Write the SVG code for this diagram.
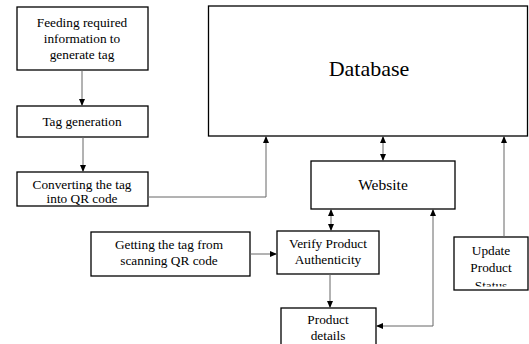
<svg xmlns="http://www.w3.org/2000/svg" width="529" height="344" viewBox="0 0 529 344">
<style>
.box{fill:#fff;stroke:#000;stroke-width:1.3}
.t{font-family:"Liberation Serif","Times New Roman",serif;font-size:13.3px;fill:#000;text-anchor:middle}
.c{fill:none;stroke:#666;stroke-width:1}
</style>
<defs>
<marker id="ah" markerWidth="7" markerHeight="6" refX="7" refY="3" orient="auto-start-reverse" markerUnits="userSpaceOnUse">
<path d="M0,0 L7,3 L0,6 Z" fill="#000"/>
</marker>
<clipPath id="clipU"><rect x="454" y="237" width="74" height="49.5"/></clipPath>
</defs>
<rect width="529" height="344" fill="#fff"/>
<g id="feeding">
<rect class="box" x="17" y="7" width="131" height="63"/>
<text class="t" x="82" y="27">Feeding required</text>
<text class="t" x="82" y="43">information to</text>
<text class="t" x="82" y="59">generate tag</text>
</g>
<g id="taggen">
<rect class="box" x="17" y="106" width="131" height="31"/>
<text class="t" x="82" y="126">Tag generation</text>
</g>
<g id="converting">
<rect class="box" x="17" y="172" width="131" height="34"/>
<text class="t" x="82" y="189">Converting the tag</text>
<text class="t" x="82" y="203">into QR code</text>
</g>
<g id="database">
<rect class="box" x="208.5" y="6" width="319" height="130"/>
<text class="t" x="369" y="76" style="font-size:22px">Database</text>
</g>
<g id="website">
<rect class="box" x="311" y="161" width="144" height="48"/>
<text class="t" x="383" y="190" style="font-size:15.5px">Website</text>
</g>
<g id="getting">
<rect class="box" x="91" y="232" width="159" height="44"/>
<text class="t" x="169" y="249">Getting the tag from</text>
<text class="t" x="169" y="265">scanning QR code</text>
</g>
<g id="verify">
<rect class="box" x="277" y="231" width="102" height="43"/>
<text class="t" x="328" y="248">Verify Product</text>
<text class="t" x="328" y="264">Authenticity</text>
</g>
<g id="productdetails">
<rect class="box" x="281" y="308" width="95" height="40"/>
<text class="t" x="328" y="324">Product</text>
<text class="t" x="328" y="340">details</text>
</g>
<g id="update">
<rect class="box" x="454" y="237" width="74" height="53"/>
<g clip-path="url(#clipU)">
<text class="t" x="491" y="255">Update</text>
<text class="t" x="491" y="272">Product</text>
<text class="t" x="491" y="289.5">Status</text>
</g>
</g>
<g id="connectors">
<line class="c" x1="82" y1="70" x2="82" y2="106" marker-end="url(#ah)"/>
<line class="c" x1="83" y1="137" x2="83" y2="172" marker-end="url(#ah)"/>
<polyline class="c" points="148,197 266,197 266,136" marker-end="url(#ah)"/>
<line class="c" x1="383" y1="136" x2="383" y2="161" marker-start="url(#ah)" marker-end="url(#ah)"/>
<line class="c" x1="331" y1="209" x2="331" y2="231" marker-start="url(#ah)" marker-end="url(#ah)"/>
<line class="c" x1="250" y1="254" x2="277" y2="254" marker-end="url(#ah)"/>
<line class="c" x1="330" y1="274" x2="330" y2="308" marker-end="url(#ah)"/>
<polyline class="c" points="376,326 433,326 433,209" marker-start="url(#ah)" marker-end="url(#ah)"/>
<line class="c" x1="504" y1="237" x2="504" y2="136" marker-end="url(#ah)"/>
</g>
</svg>
